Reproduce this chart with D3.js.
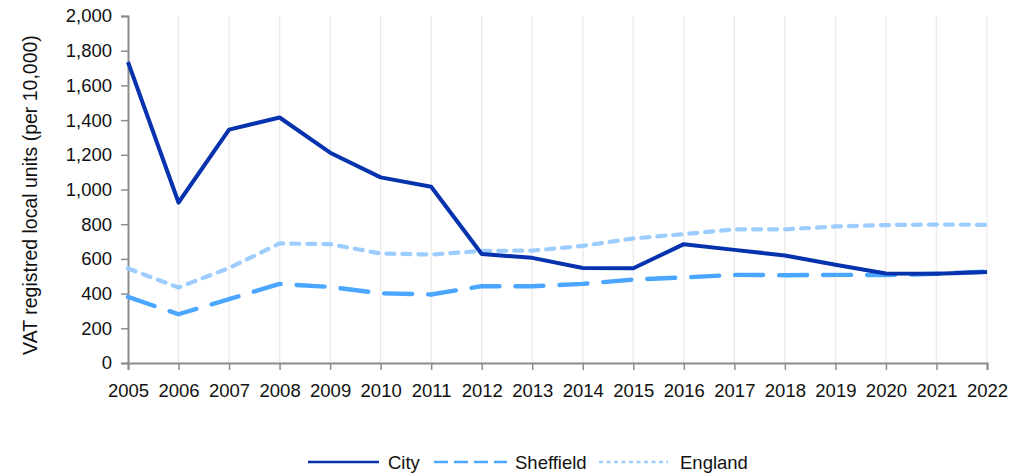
<!DOCTYPE html>
<html>
<head>
<meta charset="utf-8">
<script src="https://cdn.jsdelivr.net/npm/d3@7"></script>
<style>
  html, body { margin: 0; padding: 0; background: #fff; }
  svg { display: block; font-family: "Liberation Sans", Arial, sans-serif; }
</style>
</head>
<body>
<svg id="chart" width="1025" height="473"></svg>
<script>
// VAT registered local units per 10,000 population, 2005–2022
const years = [2005, 2006, 2007, 2008, 2009, 2010, 2011, 2012, 2013, 2014, 2015, 2016, 2017, 2018, 2019, 2020, 2021, 2022];
const cityValues = [1735, 925, 1345, 1415, 1212, 1070, 1016, 628, 606, 548, 546, 685, 652, 620, 566, 516, 514, 525];
const sheffieldValues = [381, 281, 368, 456, 438, 402, 395, 443, 442, 456, 481, 493, 508, 506, 508, 507, 514, 527];
const englandValues = [545, 435, 548, 689, 685, 631, 625, 646, 648, 675, 718, 743, 770, 770, 787, 795, 798, 796];
const yTicks = [0, 200, 400, 600, 800, 1000, 1200, 1400, 1600, 1800, 2000];
const seriesNames = ["City", "Sheffield", "England"];

const series = [
  { name: seriesNames[0], values: cityValues, color: "#0632ae", width: 4, dash: null, legendDash: null },
  { name: seriesNames[1], values: sheffieldValues, color: "#4ba6ff", width: 4.4, dash: "28,16", legendDash: "14,6" },
  { name: seriesNames[2], values: englandValues, color: "#9dcdff", width: 4.2, dash: "8,8", legendDash: "4,3.5" }
];

const FONT = 18.5;
const svg = d3.select("#chart");
const margin = { left: 128, right: 38, top: 16, bottom: 110 };
const W = 1025, H = 473;

const x = d3.scaleLinear().domain([years[0], years[years.length - 1]]).range([margin.left, W - margin.right]);
const y = d3.scaleLinear().domain([0, 2000]).range([H - margin.bottom, margin.top]);

// vertical gridlines
svg.append("g")
  .selectAll("line")
  .data(years.slice(1))
  .join("line")
  .attr("x1", d => x(d)).attr("x2", d => x(d))
  .attr("y1", y(2000)).attr("y2", y(0))
  .attr("stroke", "#ececec").attr("stroke-width", 1.5);

// y axis
const yAxis = svg.append("g")
  .attr("transform", `translate(${x(years[0])},0)`)
  .call(d3.axisLeft(y).tickValues(yTicks).tickSize(7).tickPadding(9).tickFormat(d3.format(",")));
yAxis.select(".domain").attr("stroke", "#8c8c8c").attr("stroke-width", 2);
yAxis.selectAll(".tick line").attr("stroke", "#8c8c8c").attr("stroke-width", 1.5);
yAxis.selectAll("text").attr("font-size", FONT).attr("fill", "#111").attr("font-family", "Liberation Sans, Arial, sans-serif");

// x axis
const xAxis = svg.append("g")
  .attr("transform", `translate(0,${y(0)})`)
  .call(d3.axisBottom(x).tickValues(years).tickSize(7).tickPadding(14).tickFormat(d3.format("d")));
xAxis.select(".domain").attr("stroke", "#8c8c8c").attr("stroke-width", 2);
xAxis.selectAll(".tick line").attr("stroke", "#8c8c8c").attr("stroke-width", 1.5);
xAxis.selectAll("text").attr("font-size", FONT).attr("fill", "#111").attr("font-family", "Liberation Sans, Arial, sans-serif");

// y axis title
svg.append("text")
  .attr("transform", `translate(37,195) rotate(-90)`)
  .attr("text-anchor", "middle")
  .attr("font-size", 19.5)
  .attr("fill", "#111")
  .text("VAT registred local units (per 10,000)");

// series lines
const line = d3.line().x((d, i) => x(years[i])).y(d => y(d));
series.slice().reverse().forEach(s => {
  svg.append("path")
    .datum(s.values)
    .attr("d", line)
    .attr("fill", "none")
    .attr("stroke", s.color)
    .attr("stroke-width", s.width)
    .attr("stroke-linejoin", "round")
    .attr("stroke-linecap", s.dash ? "round" : "butt")
    .attr("stroke-dasharray", s.dash);
});

// legend
const legendItems = [
  { x1: 308, x2: 379, tx: 388 },
  { x1: 434, x2: 507, tx: 515 },
  { x1: 599, x2: 668, tx: 680 }
];
const legendY = 462;
series.forEach((s, i) => {
  const li = legendItems[i];
  svg.append("line")
    .attr("x1", li.x1).attr("x2", li.x2)
    .attr("y1", legendY).attr("y2", legendY)
    .attr("stroke", s.color).attr("stroke-width", 2.4)
    .attr("stroke-dasharray", s.legendDash);
  svg.append("text")
    .attr("x", li.tx).attr("y", 468.5)
    .attr("font-size", FONT).attr("fill", "#111")
    .text(s.name);
});
</script>
</body>
</html>
